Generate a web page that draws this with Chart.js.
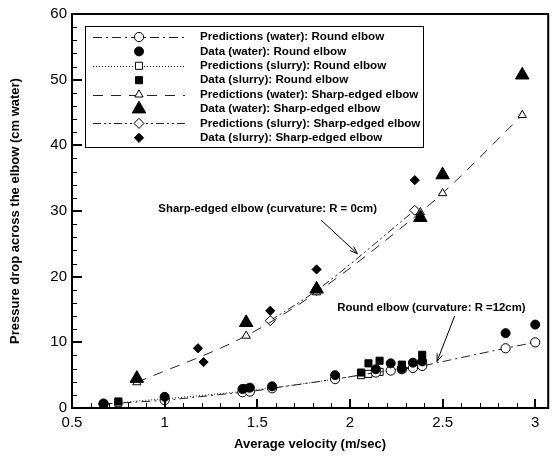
<!DOCTYPE html>
<html>
<head>
<meta charset="utf-8">
<script src="https://cdn.jsdelivr.net/npm/chart.js@4/dist/chart.umd.min.js"></script>
<style>
  body { margin: 0; background: #fff; }
  #chartHolder { display: block; }
</style>
</head>
<body>
<canvas id="chartHolder" width="557" height="458"></canvas>
<script>
const chartHolder = document.getElementById("chartHolder");

// axis ticks
const xTicks = [0.5, 1, 1.5, 2, 2.5, 3];
const yTicks = [0, 10, 20, 30, 40, 50, 60];

// round elbow, water
const vWaterRound    = [0.67, 1.0, 1.42, 1.46, 1.58, 1.92, 2.14, 2.22, 2.28, 2.34, 2.39, 2.84, 3.0];
const dataWaterRound = [0.7, 1.7, 2.9, 3.1, 3.3, 5.0, 5.9, 6.8, 6.0, 6.9, 7.1, 11.4, 12.7];
const predWaterRound = [0.6, 1.2, 2.4, 2.5, 3.0, 4.4, 5.4, 5.7, 5.9, 6.1, 6.4, 9.1, 10.0];

// round elbow, slurry
const vSlurryRound    = [0.75, 1.44, 2.06, 2.10, 2.16, 2.28, 2.39];
const dataSlurryRound = [1.0, 3.0, 5.4, 6.8, 7.2, 6.6, 8.1];
const predSlurryRound = [0.8, 2.6, 5.0, 5.2, 5.5, 6.0, 6.6];

// sharp-edged elbow, water
const vWaterSharp    = [0.85, 1.44, 1.82, 2.38, 2.5, 2.93];
const dataWaterSharp = [4.5, 13.0, 18.1, 29.0, 35.5, 50.7];
const predWaterSharp = [3.9, 11.0, 17.6, 29.8, 32.7, 44.6];

// sharp-edged elbow, slurry
const vSlurrySharp     = [1.18, 1.21, 1.57, 1.82, 2.35];
const dataSlurrySharp  = [9.1, 7.0, 14.8, 21.1, 34.7];
const vSlurrySharpPred = [1.57, 1.82, 2.35];
const predSlurrySharp  = [13.3, 17.9, 30.1];

const FONT = "'Liberation Sans', Arial, Helvetica, sans-serif";

function pts(xs, ys) {
    return xs.map((x, i) => ({ x: x, y: ys[i] }));
}

function predSet(label, xs, ys, style, radius, dash) {
    return {
        label: label,
        data: pts(xs, ys),
        showLine: true,
        cubicInterpolationMode: 'monotone',
        borderColor: '#222',
        borderWidth: 1,
        borderDash: dash,
        pointStyle: style,
        pointRadius: radius,
        pointBackgroundColor: '#fff',
        pointBorderColor: '#000',
        pointBorderWidth: 1,
        order: 1
    };
}

function dataSet(label, xs, ys, style, radius) {
    return {
        label: label,
        data: pts(xs, ys),
        showLine: false,
        pointStyle: style,
        pointRadius: radius,
        pointBackgroundColor: '#000',
        pointBorderColor: '#000',
        pointBorderWidth: 1,
        order: 0
    };
}

const datasets = [
    predSet('Predictions (water): Round elbow', vWaterRound, predWaterRound, 'circle', 4.6, [9, 4, 2, 4]),
    dataSet('Data (water): Round elbow', vWaterRound, dataWaterRound, 'circle', 4.5),
    predSet('Predictions (slurry): Round elbow', vSlurryRound, predSlurryRound, 'rect', 5, [1, 2]),
    dataSet('Data (slurry): Round elbow', vSlurryRound, dataSlurryRound, 'rect', 5),
    predSet('Predictions (water): Sharp-edged elbow', vWaterSharp, predWaterSharp, 'triangle', 4.8, [10, 8]),
    dataSet('Data (water): Sharp-edged elbow', vWaterSharp, dataWaterSharp, 'triangle', 7.8),
    predSet('Predictions (slurry): Sharp-edged elbow', vSlurrySharpPred, predSlurrySharp, 'rectRot', 5, [8, 3, 2, 3, 2, 3]),
    dataSet('Data (slurry): Sharp-edged elbow', vSlurrySharp, dataSlurrySharp, 'rectRot', 4.6)
];

// text notes with arrows, in data units
const notes = [
    { text: 'Sharp-edged elbow (curvature: R = 0cm)', at: [1.556, 30.3], from: [1.845, 28.6], to: [2.04, 23.5] },
    { text: 'Round elbow (curvature: R =12cm)', at: [2.44, 15.3], from: [2.565, 14.0], to: [2.47, 7.1] }
];

function drawMarker(ctx, ds, x, y) {
    ctx.save();
    ctx.lineWidth = ds.pointBorderWidth;
    ctx.strokeStyle = ds.pointBorderColor;
    ctx.fillStyle = ds.pointBackgroundColor;
    Chart.helpers.drawPoint(ctx, { pointStyle: ds.pointStyle, radius: ds.pointRadius, rotation: 0, borderWidth: 1 }, x, y);
    ctx.restore();
}

const extras = {
    id: 'extras',
    afterDatasetsDraw(chart) {
        const ctx = chart.ctx;
        const a = chart.chartArea;
        const xs = chart.scales.x, ys = chart.scales.y;
        ctx.save();
        ctx.strokeStyle = '#000';

        // inward tick marks
        for (let i = 0; i <= 25; i++) {
            const v = 0.5 + i * 0.1;
            const major = i % 5 === 0;
            const px = Math.round(xs.getPixelForValue(v));
            ctx.lineWidth = major ? 2 : 1;
            ctx.beginPath();
            ctx.moveTo(px + (major ? 0 : 0.5), a.bottom);
            ctx.lineTo(px + (major ? 0 : 0.5), a.bottom - (major ? 9 : 5));
            ctx.stroke();
        }
        for (let i = 0; i <= 30; i++) {
            const v = i * 2;
            const major = i % 5 === 0;
            const py = Math.round(ys.getPixelForValue(v));
            ctx.lineWidth = major ? 2 : 1;
            ctx.beginPath();
            ctx.moveTo(a.left, py + (major ? 0 : 0.5));
            ctx.lineTo(a.left + (major ? 10 : 5), py + (major ? 0 : 0.5));
            ctx.stroke();
        }

        // frame
        ctx.lineWidth = 2;
        ctx.strokeRect(a.left, a.top, a.right - a.left, a.bottom - a.top);

        // notes and arrows
        ctx.font = "bold 11.4px " + FONT;
        ctx.fillStyle = '#000';
        ctx.textAlign = 'center';
        ctx.textBaseline = 'middle';
        ctx.lineWidth = 1;
        notes.forEach(n => {
            ctx.fillText(n.text, xs.getPixelForValue(n.at[0]), ys.getPixelForValue(n.at[1]));
            const x1 = xs.getPixelForValue(n.from[0]), y1 = ys.getPixelForValue(n.from[1]);
            const x2 = xs.getPixelForValue(n.to[0]), y2 = ys.getPixelForValue(n.to[1]);
            const ang = Math.atan2(y2 - y1, x2 - x1);
            ctx.beginPath();
            ctx.moveTo(x1, y1);
            ctx.lineTo(x2, y2);
            ctx.moveTo(x2 - 8 * Math.cos(ang - 0.35), y2 - 8 * Math.sin(ang - 0.35));
            ctx.lineTo(x2, y2);
            ctx.lineTo(x2 - 8 * Math.cos(ang + 0.35), y2 - 8 * Math.sin(ang + 0.35));
            ctx.stroke();
        });

        // legend box
        const lx = a.left + 13, ly = a.top + 12, lw = 338, lh = 121;
        ctx.fillStyle = '#fff';
        ctx.fillRect(lx, ly, lw, lh);
        ctx.lineWidth = 1;
        ctx.strokeRect(lx + 0.5, ly + 0.5, lw, lh);
        chart.data.datasets.forEach((ds, i) => {
            const ry = ly + 11 + i * 14.4;
            if (ds.showLine) {
                ctx.save();
                ctx.strokeStyle = ds.borderColor;
                ctx.lineWidth = 1;
                ctx.setLineDash(ds.borderDash);
                ctx.beginPath();
                ctx.moveTo(lx + 8, Math.round(ry) + 0.5);
                ctx.lineTo(lx + 100, Math.round(ry) + 0.5);
                ctx.stroke();
                ctx.restore();
            }
            drawMarker(ctx, ds, lx + 54, ry);
            ctx.fillStyle = '#000';
            ctx.textAlign = 'left';
            ctx.font = "bold 11.6px " + FONT;
            ctx.fillText(ds.label, lx + 115, ry);
        });
        ctx.restore();
    }
};

new Chart(chartHolder, {
    type: 'scatter',
    data: { datasets: datasets },
    plugins: [extras],
    options: {
        responsive: false,
        animation: false,
        events: [],
        layout: { padding: { top: 10, right: 8, left: 0, bottom: 0 } },
        plugins: {
            legend: { display: false },
            tooltip: { enabled: false }
        },
        scales: {
            x: {
                type: 'linear',
                min: 0.5,
                max: 3.07,
                afterBuildTicks: s => { s.ticks = xTicks.map(v => ({ value: v })); },
                afterFit: s => { s.height = 50; },
                grid: { display: false, drawTicks: false },
                border: { display: false },
                ticks: {
                    color: '#000',
                    padding: 6,
                    maxRotation: 0,
                    font: { family: FONT, size: 15 },
                    callback: v => String(v)
                },
                title: {
                    display: true,
                    text: 'Average velocity (m/sec)',
                    color: '#000',
                    padding: { top: 0, bottom: 6 },
                    font: { family: FONT, size: 13, weight: 'bold' }
                }
            },
            y: {
                type: 'linear',
                min: 0,
                max: 60,
                afterBuildTicks: s => { s.ticks = yTicks.map(v => ({ value: v })); },
                afterFit: s => { s.width = 72; },
                grid: { display: false, drawTicks: false },
                border: { display: false },
                ticks: {
                    color: '#000',
                    padding: 5,
                    font: { family: FONT, size: 15 }
                },
                title: {
                    display: true,
                    text: 'Pressure drop across the elbow (cm water)',
                    color: '#000',
                    padding: { top: 8, bottom: 0 },
                    font: { family: FONT, size: 13, weight: 'bold' }
                }
            }
        }
    }
});
</script>
</body>
</html>
